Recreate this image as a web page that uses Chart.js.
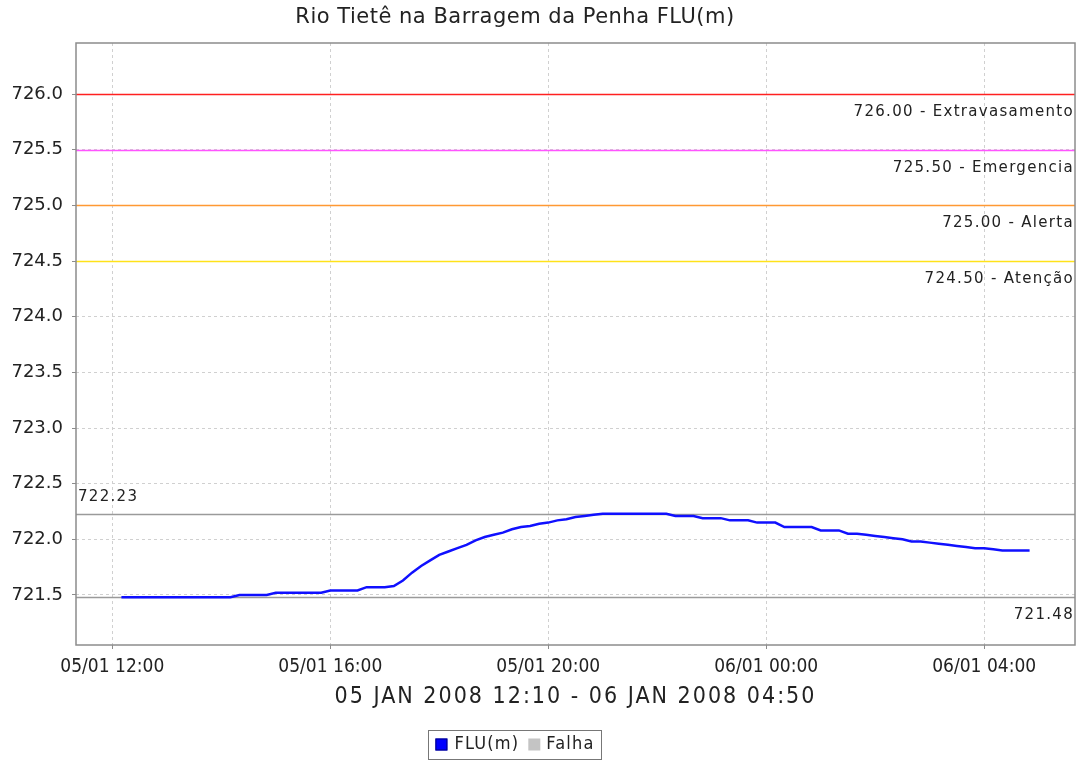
<!DOCTYPE html>
<html>
<head>
<meta charset="utf-8">
<title>Rio Tietê na Barragem da Penha FLU(m)</title>
<script src="https://cdn.jsdelivr.net/npm/chart.js@4.4.0/dist/chart.umd.min.js"></script>
<style>
  html, body { margin: 0; padding: 0; background: #ffffff; }
  #wrap { width: 1080px; height: 761px; position: relative; }
</style>
</head>
<body>
<div id="wrap"><canvas id="levelChart"></canvas></div>
<script>
// chart text
const chartTitle = "Rio Tietê na Barragem da Penha FLU(m)";
const periodLabel = "05 JAN 2008 12:10 - 06 JAN 2008 04:50";
const legendLabels = ["FLU(m)", "Falha"];

// readings every 10 minutes, first one at 05/01 12:10 (hours counted from 05/01 00:00)
const firstReadingHour = 12 + 10 / 60;
const readingStepHours = 10 / 60;
const levels = [
    721.48, 721.48, 721.48, 721.48, 721.48, 721.48, 721.48, 721.48, 721.48, 721.48,
    721.48, 721.48, 721.48, 721.50, 721.50, 721.50, 721.50, 721.52, 721.52, 721.52,
    721.52, 721.52, 721.52, 721.54, 721.54, 721.54, 721.54, 721.57, 721.57, 721.57,
    721.58, 721.63, 721.70, 721.76, 721.81, 721.86, 721.89, 721.92, 721.95, 721.99,
    722.02, 722.04, 722.06, 722.09, 722.11, 722.12, 722.14, 722.15, 722.17, 722.18,
    722.20, 722.21, 722.22, 722.23, 722.23, 722.23, 722.23, 722.23, 722.23, 722.23,
    722.23, 722.21, 722.21, 722.21, 722.19, 722.19, 722.19, 722.17, 722.17, 722.17,
    722.15, 722.15, 722.15, 722.11, 722.11, 722.11, 722.11, 722.08, 722.08, 722.08,
    722.05, 722.05, 722.04, 722.03, 722.02, 722.01, 722.00, 721.98, 721.98, 721.97,
    721.96, 721.95, 721.94, 721.93, 721.92, 721.92, 721.91, 721.90, 721.90, 721.90,
    721.90
];

// axis ticks
const xTickHours = [12, 16, 20, 24, 28];
const xTickLabels = ["05/01 12:00", "05/01 16:00", "05/01 20:00", "06/01 00:00", "06/01 04:00"];
const yTickValues = [721.5, 722.0, 722.5, 723.0, 723.5, 724.0, 724.5, 725.0, 725.5, 726.0];

// alert levels
const alertValues = [726.00, 725.50, 725.00, 724.50];
const alertLabels = ["726.00 - Extravasamento", "725.50 - Emergencia", "725.00 - Alerta", "724.50 - Atenção"];
const alertColors = ["#ff2020", "#ff55ff", "#ff9933", "#ffe21a"];

// max / min of the period
const maxLevel = 722.23;
const minLevel = 721.48;

const points = levels.map((v, i) => ({ x: firstReadingHour + i * readingStepHours, y: v }));

const condensed = "'DejaVu Sans Condensed', 'Liberation Sans Narrow', 'DejaVu Sans'";

const decorPlugin = {
    id: "decor",
    beforeDatasetsDraw(chart) {
        const ctx = chart.ctx;
        const area = chart.chartArea;
        const y = chart.scales.y;
        ctx.save();
        ctx.lineWidth = 1.5;
        alertValues.forEach((v, i) => {
            const py = Math.round(y.getPixelForValue(v)) + 0.5;
            ctx.strokeStyle = alertColors[i];
            ctx.beginPath();
            ctx.moveTo(area.left, py);
            ctx.lineTo(area.right, py);
            ctx.stroke();
        });
        ctx.strokeStyle = "#9a9a9a";
        [maxLevel, minLevel].forEach(v => {
            const py = Math.round(y.getPixelForValue(v)) + 0.5;
            ctx.beginPath();
            ctx.moveTo(area.left, py);
            ctx.lineTo(area.right, py);
            ctx.stroke();
        });
        ctx.restore();
    },
    afterDraw(chart) {
        const ctx = chart.ctx;
        const area = chart.chartArea;
        const y = chart.scales.y;
        ctx.save();

        // plot outline
        ctx.strokeStyle = "#8c8c8c";
        ctx.lineWidth = 1.5;
        ctx.strokeRect(area.left, area.top, area.right - area.left, area.bottom - area.top);

        // alert labels, under each line on the right
        ctx.fillStyle = "#222";
        ctx.font = "15px 'DejaVu Sans'";
        ctx.letterSpacing = "1.3px";
        ctx.textAlign = "right";
        ctx.textBaseline = "middle";
        alertValues.forEach((v, i) => {
            ctx.fillText(alertLabels[i], area.right - 1, y.getPixelForValue(v) + 18);
        });
        ctx.fillText(minLevel.toFixed(2), area.right - 1, y.getPixelForValue(minLevel) + 18);
        ctx.textAlign = "left";
        ctx.fillText(maxLevel.toFixed(2), area.left + 2, y.getPixelForValue(maxLevel) - 17);

        // title
        ctx.font = "21px 'DejaVu Sans'";
        ctx.letterSpacing = "0.5px";
        ctx.fillStyle = "#222";
        ctx.textAlign = "center";
        ctx.fillText(chartTitle, 515, 18);

        // period under the x axis
        ctx.font = "23px " + condensed;
        ctx.letterSpacing = "2px";
        ctx.fillText(periodLabel, (area.left + area.right) / 2, 697);

        // legend
        ctx.font = "18px " + condensed;
        ctx.letterSpacing = "1.2px";
        const swatch = 12;
        const w0 = ctx.measureText(legendLabels[0]).width;
        const w1 = ctx.measureText(legendLabels[1]).width;
        const boxW = 7 + swatch + 7 + w0 + 9 + swatch + 6 + w1 + 7;
        const boxL = 515 - boxW / 2;
        const boxT = 730;
        const boxH = 29;
        ctx.fillStyle = "#fff";
        ctx.fillRect(boxL, boxT, boxW, boxH);
        ctx.strokeStyle = "#777";
        ctx.lineWidth = 1;
        ctx.strokeRect(Math.round(boxL) + 0.5, boxT + 0.5, Math.round(boxW), boxH);
        const cy = boxT + boxH / 2;
        let cx = boxL + 7;
        ctx.fillStyle = "#0000ff";
        ctx.fillRect(cx, cy - swatch / 2, swatch, swatch);
        ctx.strokeStyle = "#00007a";
        ctx.strokeRect(cx + 0.5, cy - swatch / 2 + 0.5, swatch - 1, swatch - 1);
        cx += swatch + 7;
        ctx.fillStyle = "#222";
        ctx.textAlign = "left";
        ctx.fillText(legendLabels[0], cx, cy);
        cx += w0 + 9;
        ctx.fillStyle = "#c4c4c4";
        ctx.fillRect(cx, cy - swatch / 2, swatch, swatch);
        cx += swatch + 6;
        ctx.fillStyle = "#222";
        ctx.fillText(legendLabels[1], cx, cy);

        ctx.restore();
    }
};

const ctx = document.getElementById("levelChart").getContext("2d");
window.levelChart = new Chart(ctx, {
    type: "line",
    data: {
        datasets: [
            {
                label: legendLabels[0],
                data: points,
                borderColor: "#1010ff",
                borderWidth: 2.5,
                pointRadius: 0,
                tension: 0,
                fill: false,
            },
        ],
    },
    options: {
        responsive: true,
        maintainAspectRatio: false,
        animation: false,
        layout: { padding: { left: 0, top: 43, right: 5, bottom: 0 } },
        plugins: {
            legend: { display: false },
            title: { display: false },
            tooltip: { enabled: false },
        },
        scales: {
            x: {
                type: "linear",
                min: 11.3333,
                max: 29.6667,
                afterBuildTicks: (scale) => {
                    scale.ticks = xTickHours.map(v => ({ value: v }));
                },
                afterFit: (scale) => { scale.height = 116; },
                ticks: {
                    autoSkip: false,
                    maxRotation: 0,
                    padding: 7,
                    color: "#222",
                    font: { family: condensed, size: 19 },
                    callback: (value, index) => xTickLabels[index],
                },
                grid: {
                    color: "#d0d0d0",
                    tickLength: 4,
                    tickColor: "#8c8c8c",
                    tickBorderDash: [],
                },
                border: { display: false, dash: [3, 3] },
            },
            y: {
                min: 721.05,
                max: 726.46,
                afterBuildTicks: (scale) => {
                    scale.ticks = yTickValues.map(v => ({ value: v }));
                },
                afterFit: (scale) => { scale.width = 76; },
                ticks: {
                    padding: 9,
                    color: "#222",
                    font: { family: "'DejaVu Sans'", size: 18 },
                    callback: (value) => Number(value).toFixed(1),
                },
                grid: {
                    color: "#d0d0d0",
                    tickLength: 4,
                    tickColor: "#8c8c8c",
                    tickBorderDash: [],
                },
                border: { display: false, dash: [3, 3] },
            },
        },
    },
    plugins: [decorPlugin],
});
</script>
</body>
</html>
